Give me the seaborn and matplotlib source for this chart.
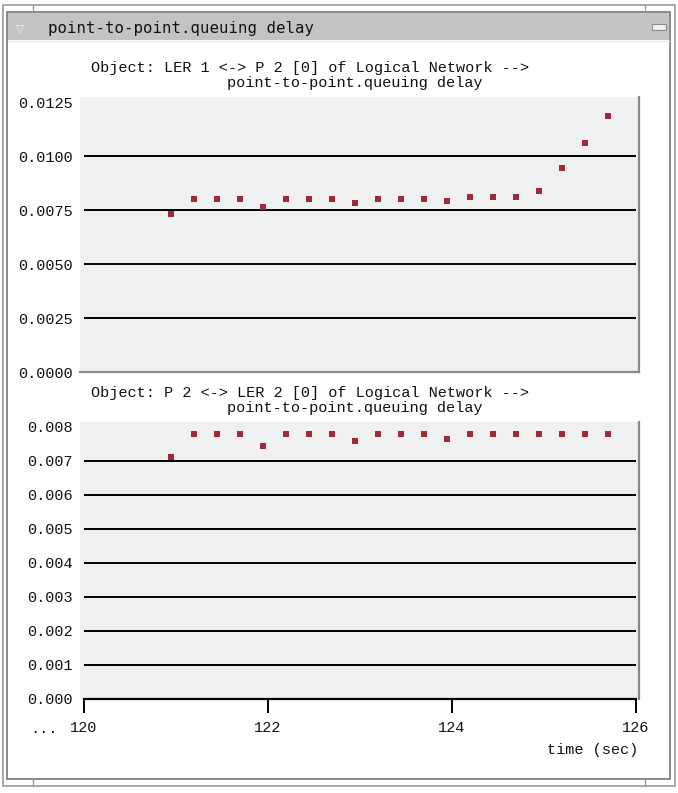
import matplotlib
matplotlib.use("Agg")
import matplotlib.pyplot as plt
from matplotlib.patches import Rectangle
from matplotlib.ticker import FormatStrFormatter
import seaborn as sns
import pandas as pd

# ---- data ----
times = [120.95, 121.2, 121.45, 121.7, 121.95, 122.2, 122.45, 122.7, 122.95, 123.2,
         123.45, 123.7, 123.95, 124.2, 124.45, 124.7, 124.95, 125.2, 125.45, 125.7]
delay_ler1_p2 = [0.00733, 0.00803, 0.00803, 0.00803, 0.00766, 0.00803, 0.00803, 0.00803, 0.00784, 0.00803,
                 0.00803, 0.00803, 0.00794, 0.00811, 0.00811, 0.00811, 0.00838, 0.00945, 0.01061, 0.01186]
delay_p2_ler2 = [0.00710, 0.00778, 0.00778, 0.00778, 0.00743, 0.00778, 0.00778, 0.00778, 0.00759, 0.00778,
                 0.00778, 0.00778, 0.00764, 0.00778, 0.00778, 0.00778, 0.00778, 0.00778, 0.00778, 0.00778]
yticks_top = [0.0, 0.0025, 0.0050, 0.0075, 0.0100, 0.0125]
yticks_bottom = [0.000, 0.001, 0.002, 0.003, 0.004, 0.005, 0.006, 0.007, 0.008]
xticks = [120, 122, 124, 126]
window_title = "point-to-point.queuing delay"
title_top = ["Object: LER 1 <-> P 2 [0] of Logical Network -->", "point-to-point.queuing delay"]
title_bottom = ["Object: P 2 <-> LER 2 [0] of Logical Network -->", "point-to-point.queuing delay"]
xlabel = "time (sec)"

sns.set_style("white")
plt.rcParams['font.family'] = ['Liberation Mono', 'DejaVu Sans Mono']

W, H = 678, 793
fig = plt.figure(figsize=(W / 100, H / 100), dpi=100)
fig.patch.set_facecolor("white")


def px_axes(x0, y0, x1, y1):
    ax = fig.add_axes([x0 / W, 1 - y1 / H, (x1 - x0) / W, (y1 - y0) / H])
    ax.set_zorder(5)
    return ax


def fig_rect(x0, y0, x1, y1, **kw):
    r = Rectangle((x0 / W, 1 - y1 / H), (x1 - x0) / W, (y1 - y0) / H,
                  transform=fig.transFigure, zorder=-5, **kw)
    fig.patches.append(r)


def fig_line(xs, ys, **kw):
    fig.add_artist(plt.Line2D([x / W for x in xs], [1 - y / H for y in ys],
                              transform=fig.transFigure, zorder=-4, **kw))


# ---- window frame ----
fig_rect(3, 5, 675, 786, facecolor="white", edgecolor="#9a9a9a", lw=1.2)
fig_rect(7, 12, 670, 779, facecolor="white", edgecolor="#777777", lw=1.2)
fig_rect(8, 13, 669, 40, facecolor="#c3c3c3", edgecolor="none")
fig_line([8, 669], [40.5, 40.5], color="#e6e6e6", lw=1)
for xx in (33, 645):
    fig_line([xx, xx], [5, 12], color="#9a9a9a", lw=1)
    fig_line([xx, xx], [779, 786], color="#9a9a9a", lw=1)
fig_rect(652, 24, 666, 30, facecolor="#f2f2f2", edgecolor="#8a8a8a", lw=0.8)
fig.text(20 / W, 1 - 28 / H, "\u25bd", fontsize=8, color="#f4f4f4",
         ha="center", va="center", family=["DejaVu Sans"])
fig.text(48 / W, 1 - 28 / H, window_title, fontsize=11.3, color="#111111",
         ha="left", va="center", family=["DejaVu Sans Mono"])

MARK = "#9b2a3a"
BG = "#f0f0f0"


def style_axes(ax, ylim, yticks, fmt):
    ax.set_facecolor(BG)
    ax.set_xlim(120 - 4 / 92, 126 + 3 / 92)
    ax.set_ylim(*ylim)
    ax.set_yticks(yticks)
    ax.yaxis.set_major_formatter(FormatStrFormatter(fmt))
    ax.hlines(yticks[1:-1], 120, 126, color="black", lw=1.4, zorder=1)
    for s in ("top", "left"):
        ax.spines[s].set_visible(False)
    ax.spines["right"].set_color("#8a8a8a")
    ax.spines["right"].set_linewidth(1.6)
    ax.tick_params(axis="y", length=0, pad=5, labelsize=11, labelcolor="#111111")
    ax.set_xlabel("")
    ax.set_ylabel("")


# ---- top panel ----
ax1 = px_axes(80, 97, 639, 372)
df1 = pd.DataFrame({"time": times, "delay": delay_ler1_p2})
sns.scatterplot(data=df1, x="time", y="delay", ax=ax1, marker="s", s=15,
                color=MARK, linewidth=0, zorder=3)
style_axes(ax1, (0, 0.01275), yticks_top, "%.4f")
ax1.spines["bottom"].set_color("#8a8a8a")
ax1.spines["bottom"].set_linewidth(1.6)
ax1.set_xticks([])

fig.text(91 / W, 1 - 68 / H, title_top[0], fontsize=11, ha="left", va="center", color="#111111")
fig.text(227 / W, 1 - 83 / H, title_top[1], fontsize=11, ha="left", va="center", color="#111111")

# ---- bottom panel ----
ax2 = px_axes(80, 422, 639, 699)
df2 = pd.DataFrame({"time": times, "delay": delay_p2_ler2})
sns.scatterplot(data=df2, x="time", y="delay", ax=ax2, marker="s", s=15,
                color=MARK, linewidth=0, zorder=3)
style_axes(ax2, (0, 0.00814), yticks_bottom, "%.3f")
ax2.spines["bottom"].set_color("black")
ax2.spines["bottom"].set_linewidth(1.6)
ax2.spines["bottom"].set_bounds(120, 126)
ax2.set_xticks(xticks)
ax2.set_xticklabels([str(t) for t in xticks])
ax2.tick_params(axis="x", bottom=True, length=10, width=1.4, color="black", direction="out",
                pad=6, labelsize=11, labelcolor="#111111")

fig.text(91 / W, 1 - 393 / H, title_bottom[0], fontsize=11, ha="left", va="center", color="#111111")
fig.text(227 / W, 1 - 408 / H, title_bottom[1], fontsize=11, ha="left", va="center", color="#111111")

fig.text(44 / W, 1 - 729 / H, "...", fontsize=11, ha="center", va="center", color="#111111")
fig.text(638 / W, 1 - 750 / H, xlabel, fontsize=11, ha="right", va="center", color="#111111")

fig.savefig("out.png", dpi=100, facecolor="white")
